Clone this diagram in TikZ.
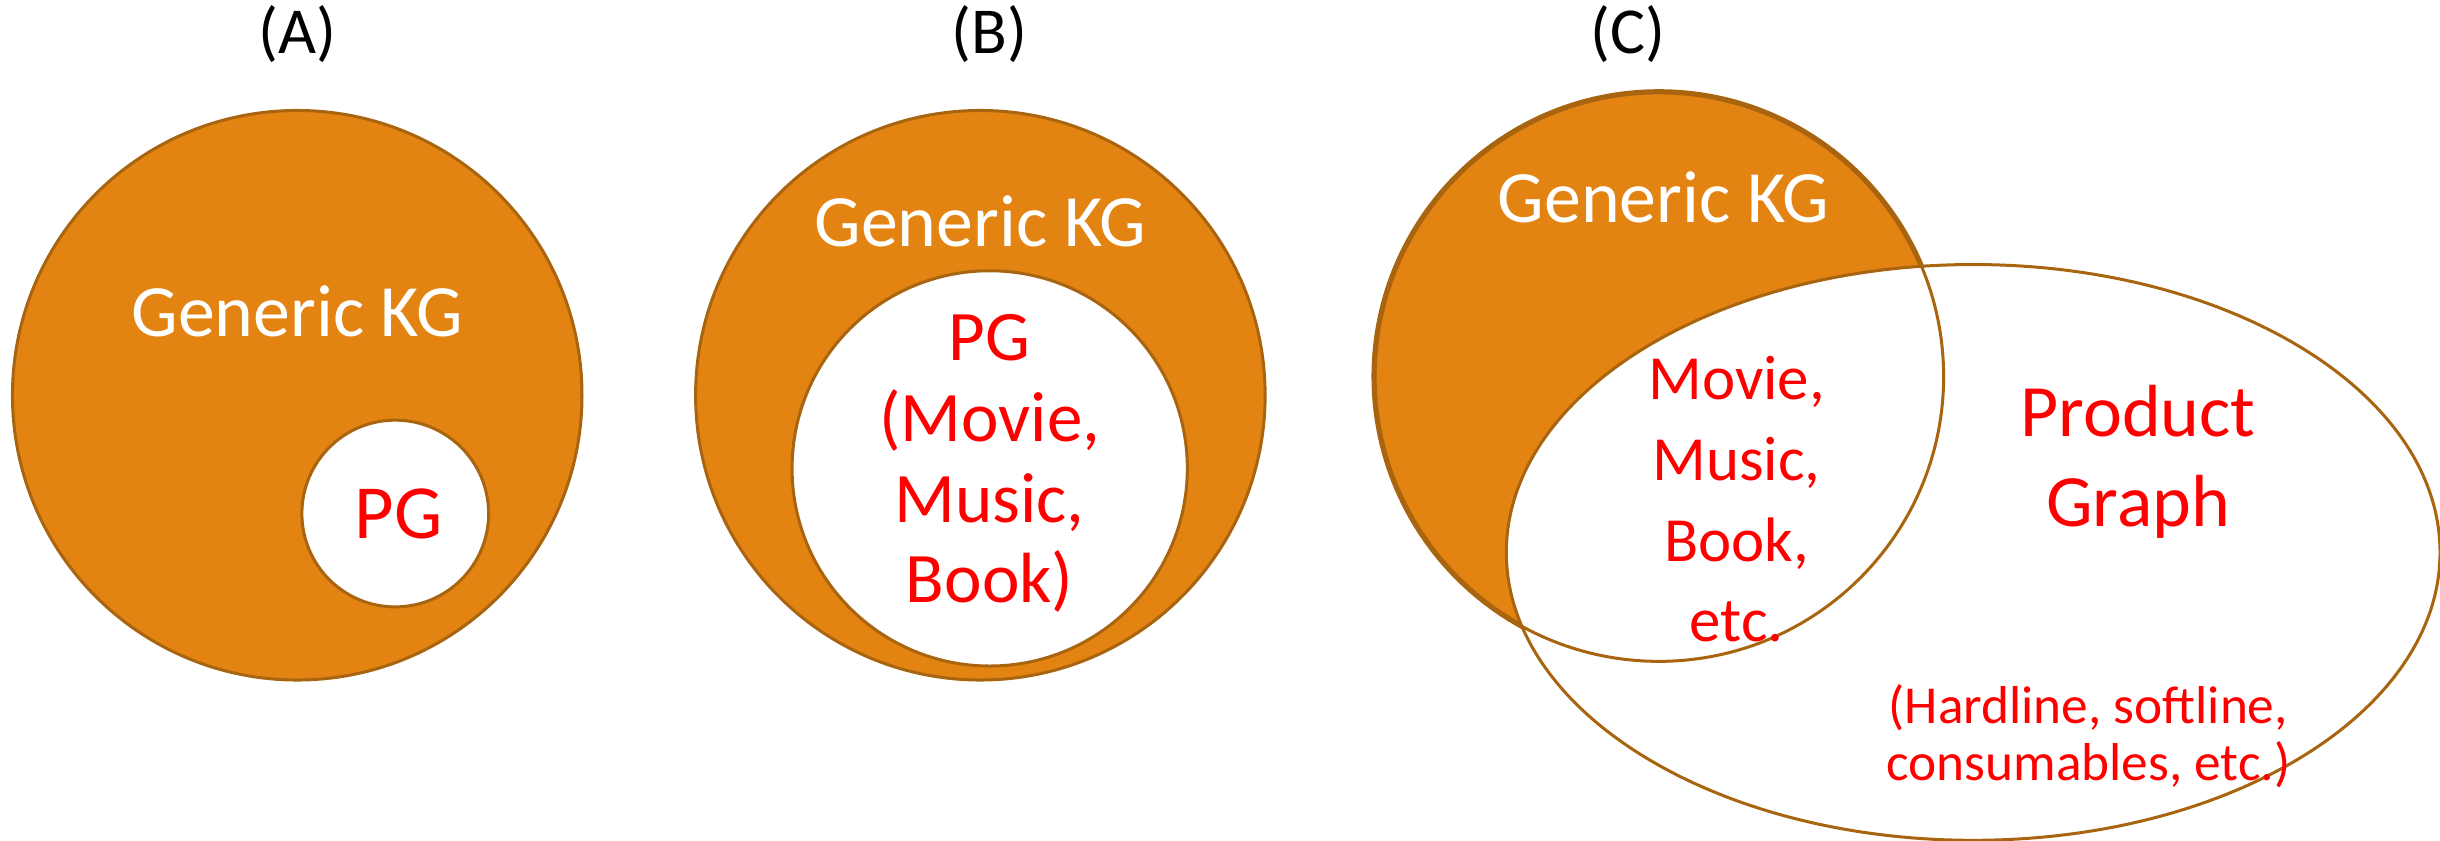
\documentclass[tikz,border=0pt]{standalone}
\usepackage{fontspec}
\setmainfont{Carlito}
\definecolor{kgorange}{HTML}{E38312}
\definecolor{kgline}{HTML}{A8640F}
\definecolor{pgred}{HTML}{FF0000}
\tikzset{
  ring/.style={draw=kgline, line width=1.1pt},
  kgset/.style={ring, fill=kgorange},
  pgset/.style={ring, fill=white},
  kgtext/.style={text=white, font=\fontsize{27}{30}\selectfont, align=center},
  pgtext/.style={text=pgred, align=center},
  paneltag/.style={text=black, font=\fontsize{24}{28}\selectfont},
}
\begin{document}
\begin{tikzpicture}[x=0.02cm,y=-0.02cm]
\useasboundingbox (0,0) rectangle (1568,540);

% ---- panel A: product graph as a small part of the generic KG
\node[paneltag] (tagA) at (191,22) {(A)};
\draw[kgset] (191,254) circle (183);
\draw[pgset] (254,330) circle (60);
\node[kgtext] (kgA) at (191,200) {Generic KG};
\node[pgtext, font=\fontsize{28}{30}\selectfont] (pgA) at (256,330) {PG};

% ---- panel B: product graph nested inside the generic KG
\node[paneltag] (tagB) at (636,22) {(B)};
\draw[kgset] (630,254) circle (183);
\draw[pgset] (636,301) circle (127);
\node[kgtext] (kgB) at (630,142) {Generic KG};
\node[pgtext, font=\fontsize{26}{29.5}\selectfont] (pgB) at (636,298)
  {PG\\(Movie,\\Music,\\Book)};

% ---- panel C: generic KG and product graph overlapping
\node[paneltag] (tagC) at (1046,22) {(C)};
\fill[kgorange, draw=kgline, line width=1.9pt] (1066,242) circle (183);
\draw[pgset] (1268,355) ellipse [x radius=300, y radius=185];
\draw[ring] (1066,242) circle (183);
\node[kgtext] (kgC) at (1069,127) {Generic KG};
\node[pgtext, font=\fontsize{23}{29.5}\selectfont] (mediaC) at (1116,321)
  {Movie,\\Music,\\Book,\\etc.};
\node[pgtext, font=\fontsize{27}{33}\selectfont] (pgC) at (1374,297)
  {Product\\Graph};
\node[pgtext, font=\fontsize{19.5}{21}\selectfont] (catC) at (1342,473)
  {(Hardline, softline,\\consumables, etc.)};
\end{tikzpicture}
\end{document}
